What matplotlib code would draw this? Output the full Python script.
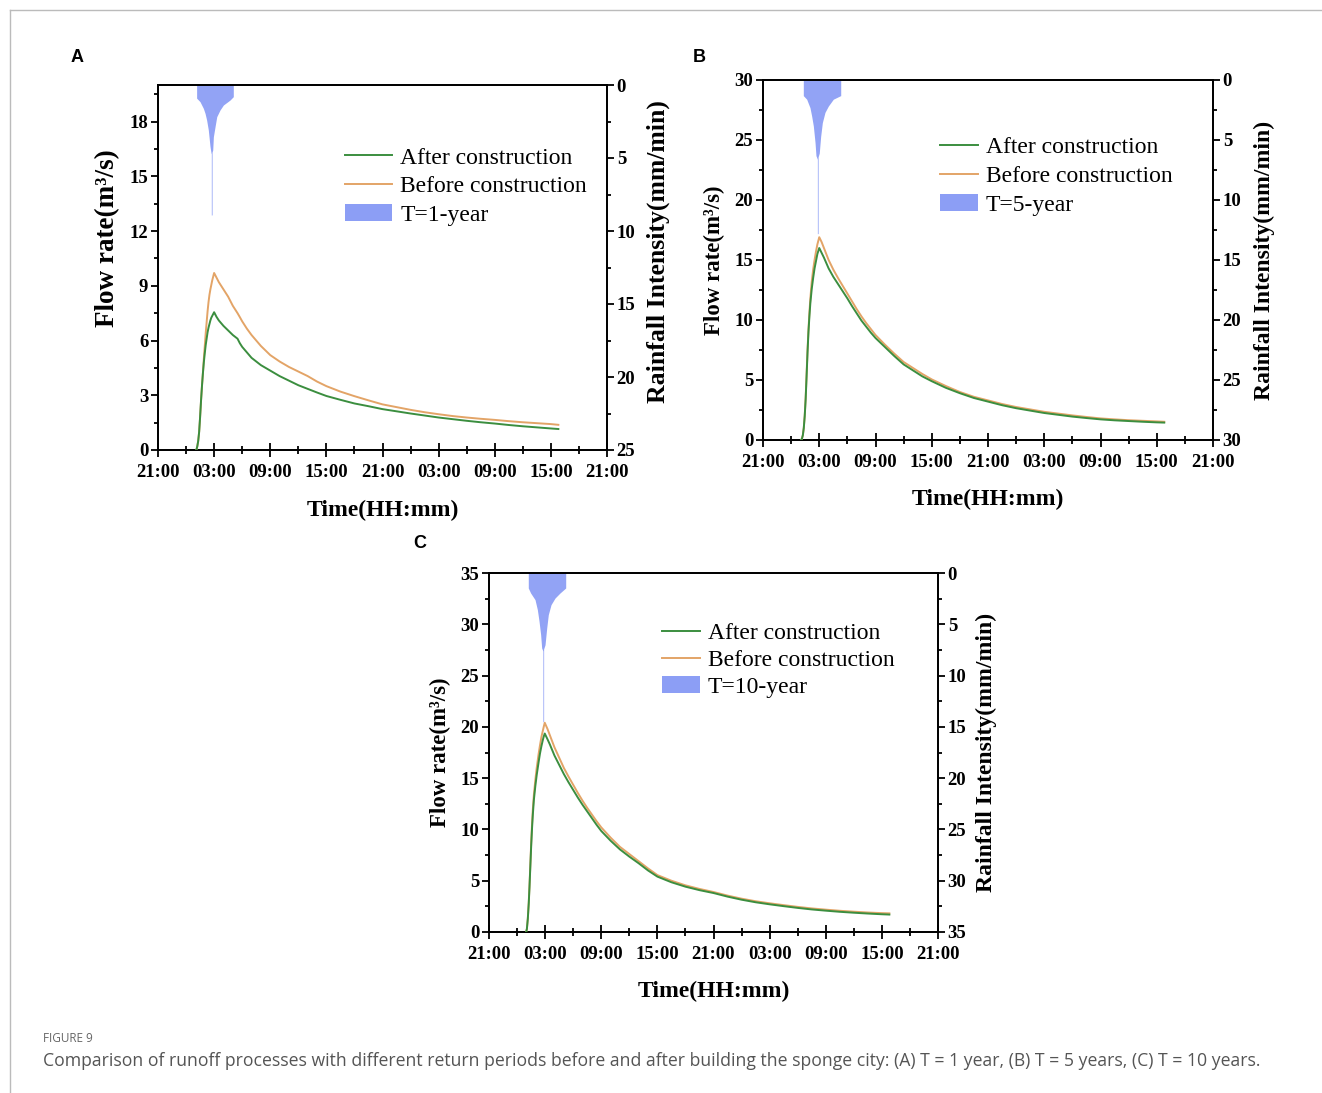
import numpy as np
import matplotlib
matplotlib.use("Agg")
import matplotlib.pyplot as plt
from matplotlib.lines import Line2D
from matplotlib.patches import Patch
from matplotlib.ticker import MultipleLocator

plt.rcParams['font.family'] = ['Liberation Serif', 'DejaVu Serif']

# ---------------- data (time in hours after 21:00 of day 1) ----------------
time_labels = ["21:00", "03:00", "09:00", "15:00", "21:00", "03:00", "09:00", "15:00", "21:00"]

# Panel A (T = 1-year)
tA = [4.10, 4.20, 4.30, 4.40, 4.50, 4.60, 4.70, 4.80, 4.90, 5.00, 5.10, 5.20, 5.30, 5.40, 5.50, 5.60,
      5.70, 5.80, 5.90, 6.00, 6.25, 6.50, 7.00, 7.50, 8.00, 8.50, 8.75, 9.00, 9.50, 10.00, 10.50, 11.00,
      11.50, 12.00, 13.00, 14.00, 15.00, 16.00, 17.00, 18.00, 19.50, 21.00, 22.50, 24.00, 25.50, 27.00,
      28.50, 30.00, 31.50, 33.00, 34.50, 36.00, 37.50, 39.00, 40.50, 42.00, 42.80]
qA_before = [0.0, 0.2, 0.5, 1.0, 1.8, 2.7, 3.5, 4.2, 5.0, 5.7, 6.4, 7.0, 7.6, 8.1, 8.5, 8.8,
             9.05, 9.3, 9.5, 9.7, 9.45, 9.2, 8.8, 8.4, 7.9, 7.5, 7.28, 7.05, 6.65, 6.3, 6.0, 5.7,
             5.45, 5.2, 4.85, 4.55, 4.3, 4.05, 3.75, 3.5, 3.2, 2.95, 2.72, 2.5, 2.35, 2.2,
             2.07, 1.96, 1.86, 1.78, 1.71, 1.65, 1.58, 1.52, 1.47, 1.42, 1.38]
qA_after = [0.0, 0.2, 0.5, 1.0, 1.8, 2.7, 3.5, 4.2, 4.8, 5.3, 5.75, 6.1, 6.45, 6.7, 6.9, 7.1,
            7.25, 7.35, 7.45, 7.55, 7.3, 7.1, 6.8, 6.55, 6.3, 6.1, 5.85, 5.65, 5.35, 5.05, 4.85, 4.65,
            4.5, 4.35, 4.05, 3.8, 3.55, 3.35, 3.15, 2.96, 2.75, 2.55, 2.4, 2.24, 2.12, 2.0,
            1.89, 1.78, 1.69, 1.6, 1.52, 1.45, 1.37, 1.3, 1.24, 1.18, 1.15]
rain_tA = [4.13, 4.13, 4.49, 4.85, 5.03, 5.20, 5.38, 5.49, 5.56, 5.67, 5.70, 5.70, 5.78, 5.78,
           5.85, 5.92, 6.10, 6.28, 6.63, 6.99, 7.70, 8.05, 8.05]
rain_iA = [0.0, 0.9, 1.14, 1.6, 1.94, 2.4, 3.08, 3.77, 4.2, 4.66, 4.7, 8.9, 8.9, 4.6,
           4.45, 3.54, 2.85, 2.17, 1.71, 1.37, 1.03, 0.8, 0.0]

# Panel B (T = 5-year)
tB = [4.06, 4.15, 4.25, 4.35, 4.45, 4.55, 4.65, 4.75, 4.85, 4.95, 5.05, 5.20, 5.35, 5.50, 5.65, 5.80,
      5.90, 6.00, 6.25, 6.50, 7.00, 7.50, 8.00, 8.50, 9.00, 9.50, 10.00, 10.50, 11.00, 11.50, 12.00,
      13.00, 14.00, 15.00, 16.00, 17.00, 18.00, 19.50, 21.00, 22.50, 24.00, 25.50, 27.00, 28.50, 30.00,
      31.50, 33.00, 34.50, 36.00, 37.50, 39.00, 40.50, 42.00, 42.80]
qB_before = [0.0, 0.1, 0.4, 1.0, 2.0, 3.5, 5.5, 7.5, 9.2, 10.6, 11.8, 13.2, 14.2, 15.0, 15.7, 16.3,
             16.6, 16.9, 16.5, 16.0, 15.0, 14.2, 13.5, 12.85, 12.2, 11.55, 10.9, 10.3, 9.75, 9.25, 8.75,
             7.95, 7.2, 6.5, 6.0, 5.5, 5.05, 4.5, 4.0, 3.6, 3.3, 3.0, 2.75, 2.55, 2.35,
             2.2, 2.05, 1.92, 1.8, 1.72, 1.65, 1.6, 1.55, 1.52]
qB_after = [0.0, 0.1, 0.4, 1.0, 2.0, 3.4, 5.3, 7.3, 9.0, 10.3, 11.4, 12.6, 13.5, 14.3, 14.9, 15.5,
            15.75, 16.0, 15.6, 15.2, 14.3, 13.6, 13.0, 12.4, 11.8, 11.15, 10.55, 9.95, 9.45, 8.95, 8.5,
            7.75, 7.0, 6.3, 5.8, 5.3, 4.9, 4.35, 3.9, 3.5, 3.2, 2.9, 2.65, 2.45, 2.25,
            2.1, 1.95, 1.83, 1.72, 1.64, 1.58, 1.52, 1.47, 1.45]
rain_tB = [4.30, 4.30, 4.66, 5.01, 5.19, 5.37, 5.55, 5.65, 5.80, 5.80, 5.88, 5.88,
           6.00, 6.15, 6.33, 6.61, 6.97, 7.50, 8.29, 8.29]
rain_iB = [0.0, 1.3, 1.6, 2.3, 3.0, 3.83, 5.2, 6.3, 6.6, 12.8, 12.8, 6.4,
           6.1, 4.7, 3.55, 2.7, 2.17, 1.6, 1.3, 0.0]

# Panel C (T = 10-year)
tC = [3.97, 4.05, 4.15, 4.25, 4.33, 4.42, 4.51, 4.60, 4.69, 4.80, 4.95, 5.10, 5.31, 5.45, 5.60, 5.75,
      5.85, 5.96, 6.25, 6.50, 7.00, 7.50, 8.00, 8.50, 9.00, 9.50, 10.00, 10.50, 11.00, 11.50, 12.00,
      13.00, 14.00, 15.00, 16.00, 17.00, 18.00, 19.50, 21.00, 22.50, 24.00, 25.50, 27.00, 28.50, 30.00,
      31.50, 33.00, 34.50, 36.00, 37.50, 39.00, 40.50, 42.00, 42.80]
qC_before = [0.0, 0.3, 1.3, 2.9, 4.5, 6.6, 8.7, 10.5, 12.0, 13.4, 14.8, 16.0, 17.4, 18.2, 19.0, 19.6,
             20.0, 20.4, 19.8, 19.2, 18.0, 17.0, 16.0, 15.15, 14.35, 13.55, 12.8, 12.1, 11.45, 10.8, 10.2,
             9.2, 8.3, 7.6, 6.9, 6.2, 5.55, 5.0, 4.55, 4.2, 3.9, 3.55, 3.25, 3.0, 2.8,
             2.62, 2.45, 2.3, 2.18, 2.07, 1.98, 1.9, 1.84, 1.82]
qC_after = [0.0, 0.3, 1.3, 2.8, 4.4, 6.4, 8.4, 10.1, 11.5, 12.9, 14.2, 15.3, 16.6, 17.4, 18.1, 18.7,
            19.05, 19.35, 18.8, 18.3, 17.2, 16.3, 15.4, 14.6, 13.85, 13.1, 12.4, 11.75, 11.1, 10.45, 9.85,
            8.9, 8.05, 7.35, 6.7, 6.0, 5.4, 4.85, 4.42, 4.08, 3.8, 3.45, 3.15, 2.9, 2.7,
            2.52, 2.35, 2.2, 2.08, 1.97, 1.88, 1.8, 1.73, 1.7]
rain_tC = [4.20, 4.20, 4.45, 4.92, 5.17, 5.35, 5.52, 5.63, 5.76, 5.76, 5.84, 5.84,
           5.99, 6.17, 6.34, 6.63, 7.06, 7.59, 8.20, 8.20]
rain_iC = [0.0, 1.46, 1.95, 2.6, 3.57, 4.7, 6.0, 7.3, 7.6, 14.5, 14.5, 7.4,
           7.0, 5.36, 4.06, 3.09, 2.44, 1.95, 1.46, 0.0]

# ---------------- styling ----------------
C_AFTER = '#3b8e3f'
C_BEFORE = '#e3a467'
C_RAIN = '#8c9ef5'

fig = plt.figure(figsize=(13.22, 10.93), dpi=100)
W, H = 1322, 1093


def px_axes(l, t, r, b):
    return [l / W, 1 - b / H, (r - l) / W, (b - t) / H]


def make_panel(rect, t, q_before, q_after, rain_t, rain_i,
               ymax, ystep, rmax, legend_label, leg_anchor, labelspacing, handlelength,
               flow_fs, rain_fs, xlabelpad, rainpad, flow_y=0.5, rain_y=0.5):
    ax = fig.add_axes(rect)
    ax2 = ax.twinx()
    ax2.fill_between(rain_t, 0, rain_i, color=C_RAIN, lw=0, alpha=0.95)
    ax2.set_ylim(rmax, 0)
    ax.plot(t, q_before, color=C_BEFORE, lw=1.4, zorder=3)
    ax.plot(t, q_after, color=C_AFTER, lw=1.4, zorder=4)
    ax.set_xlim(0, 48)
    ax.set_ylim(0, ymax)
    ax.set_zorder(ax2.get_zorder() + 1)
    ax.patch.set_visible(False)

    ax.xaxis.set_minor_locator(MultipleLocator(3))
    ax.set_xticks(np.arange(0, 49, 6))
    ax.set_xticklabels(time_labels)
    ax.yaxis.set_major_locator(MultipleLocator(ystep))
    ax.yaxis.set_minor_locator(MultipleLocator(ystep / 2))
    ax2.yaxis.set_major_locator(MultipleLocator(5))
    ax2.yaxis.set_minor_locator(MultipleLocator(2.5))

    for a in (ax, ax2):
        for s in a.spines.values():
            s.set_linewidth(1.3)
    ax.tick_params(axis='x', which='major', direction='inout', length=10, width=1.3,
                   labelsize=13.5, pad=5)
    ax.tick_params(axis='x', which='minor', direction='inout', length=6, width=1.3)
    ax.tick_params(axis='y', which='major', direction='out', length=5, width=1.3,
                   labelsize=13.5, pad=2)
    ax.tick_params(axis='y', which='minor', direction='out', length=3, width=1.3)
    ax2.tick_params(axis='y', which='major', direction='out', length=5, width=1.3,
                    labelsize=13.5, pad=2)
    ax2.tick_params(axis='y', which='minor', direction='out', length=3, width=1.3)
    for lab in ax.get_xticklabels() + ax.get_yticklabels() + ax2.get_yticklabels():
        lab.set_fontweight('bold')

    ax.set_xlabel('Time(HH:mm)', fontsize=17, fontweight='bold', labelpad=xlabelpad)
    ax.set_ylabel('Flow rate(m³/s)', fontsize=flow_fs, fontweight='bold', labelpad=7)
    ax2.set_ylabel('Rainfall Intensity(mm/min)', fontsize=rain_fs, fontweight='bold', labelpad=rainpad)
    if flow_y != 0.5:
        ax.yaxis.label.set_y(flow_y)
    if rain_y != 0.5:
        ax2.yaxis.label.set_y(rain_y)

    handles = [Line2D([], [], color=C_AFTER, lw=1.4),
               Line2D([], [], color=C_BEFORE, lw=1.4),
               Patch(facecolor=C_RAIN, edgecolor='none')]
    ax.legend(handles, ['After construction', 'Before construction', legend_label],
              loc='upper left', bbox_to_anchor=leg_anchor, frameon=False,
              fontsize=17, borderpad=0, borderaxespad=0, labelspacing=labelspacing,
              handlelength=handlelength, handletextpad=0.35)
    return ax


make_panel(px_axes(158, 85, 607, 450), tA, qA_before, qA_after,
           rain_tA, rain_iA, 20, 3, 25, 'T=1-year', (0.416, 0.83), 0.3, 2.0,
           19.5, 18.5, 14, 8, flow_y=0.58, rain_y=0.545)
make_panel(px_axes(763, 80, 1213, 440), tB, qB_before, qB_after,
           rain_tB, rain_iB, 30, 5, 30, 'T=5-year', (0.393, 0.842), 0.3, 1.6,
           16.5, 17, 13, 9)
make_panel(px_axes(489, 573, 938, 932), tC, qC_before, qC_after,
           rain_tC, rain_iC, 35, 5, 35, 'T=10-year', (0.385, 0.861), 0.22, 1.6,
           16.5, 17, 13, 7)

# panel letters
for letter, x, y in [('A', 77, 58), ('B', 699, 58), ('C', 420, 543)]:
    fig.text(x / W, 1 - y / H, letter, fontsize=13, fontweight='bold',
             family=['Liberation Sans', 'DejaVu Sans'], ha='center', va='center')

# caption
fig.text(43 / W, 1 - 1038 / H, 'FIGURE 9', fontsize=8.5, color='#666666',
         family=['Open Sans', 'DejaVu Sans'], ha='left', va='center')
fig.text(43 / W, 1 - 1061 / H,
         'Comparison of runoff processes with different return periods before and after building the sponge city: '
         '(A) T = 1 year, (B) T = 5 years, (C) T = 10 years.',
         fontsize=12.7, color='#555555', family=['Open Sans', 'DejaVu Sans'],
         ha='left', va='center')

# page frame lines
fig.add_artist(Line2D([10 / W, 10 / W], [0, 1 - 10 / H], color='#bbbbbb', lw=1))
fig.add_artist(Line2D([10 / W, 1], [1 - 10 / H, 1 - 10 / H], color='#bbbbbb', lw=1))

fig.savefig('out.png', dpi=100)
